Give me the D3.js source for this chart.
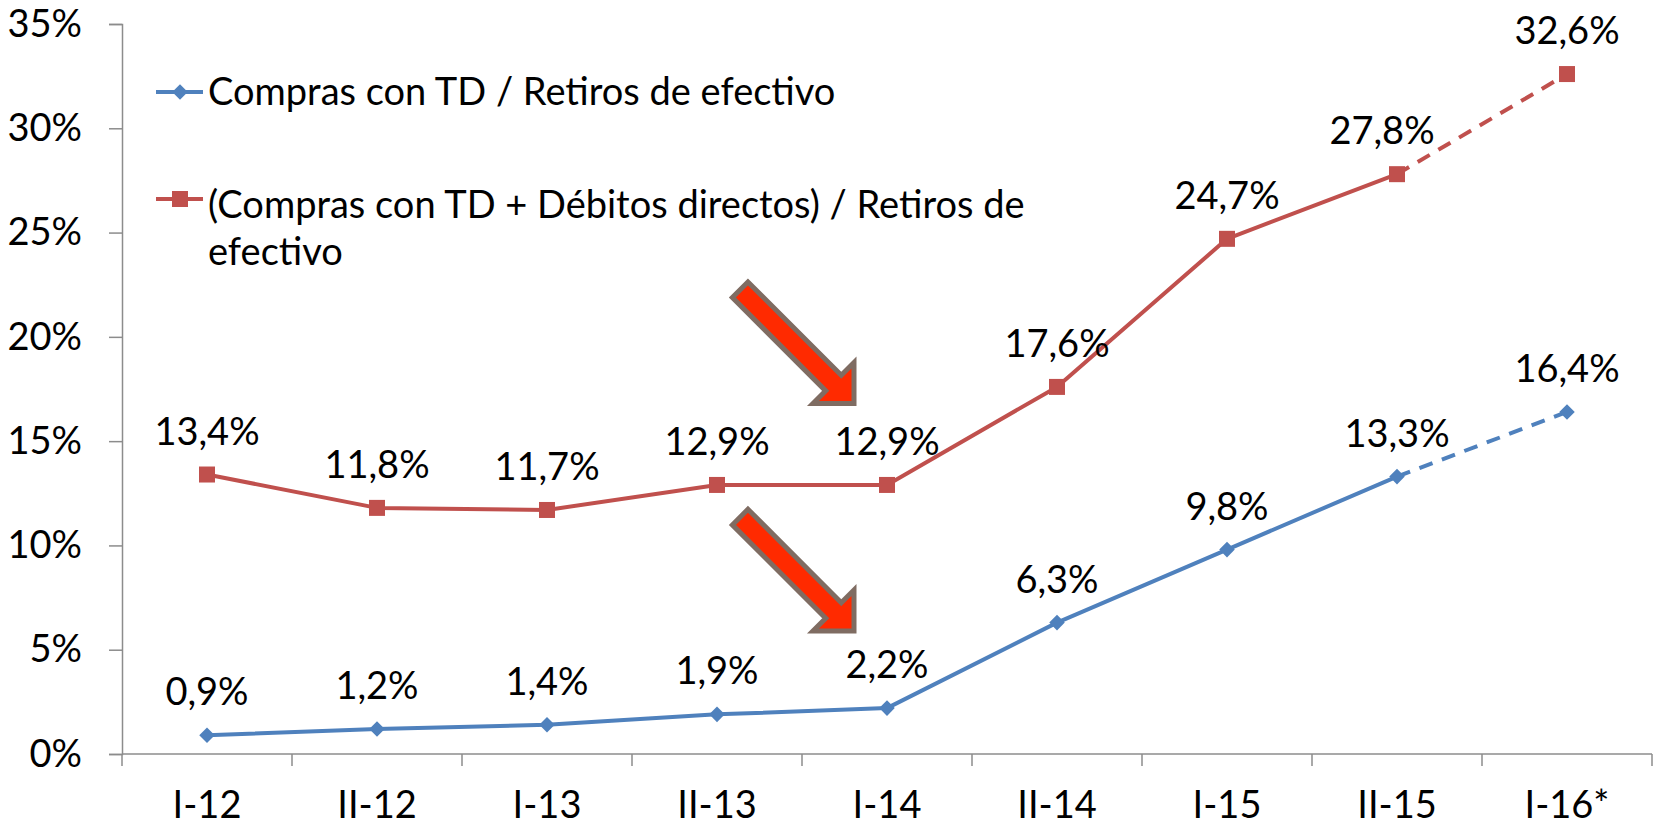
<!DOCTYPE html>
<html>
<head>
<meta charset="utf-8">
<script src="https://cdn.jsdelivr.net/npm/d3@7"></script>
<style>
  body { margin: 0; background: #fff; }
  text { font-family: Lato, "Open Sans", sans-serif; fill: #000; }
</style>
</head>
<body>
<svg></svg>
<script>
const width = 1659;
const height = 825;

const periods = ["I-12", "II-12", "I-13", "II-13", "I-14", "II-14", "I-15", "II-15", "I-16*"];
const comprasTD = [0.9, 1.2, 1.4, 1.9, 2.2, 6.3, 9.8, 13.3, 16.4];
const comprasDebitos = [13.4, 11.8, 11.7, 12.9, 12.9, 17.6, 24.7, 27.8, 32.6];
const yTicks = [0, 5, 10, 15, 20, 25, 30, 35];
const legendLabels = [
  ["Compras con TD / Retiros de efectivo"],
  ["(Compras con TD + Débitos directos) / Retiros de", "efectivo"]
];
// arrows point at the I-14 break, tip values in %
const arrowTips = [16.8, 5.9];

const blue = "#4f81bd";
const red = "#c0504d";
const axisColor = "#8c8c8c";
const fontSize = 38;

const svg = d3.select("svg")
  .attr("width", width)
  .attr("height", height);

const x = d3.scaleBand()
  .domain(periods)
  .range([122, 1652]);

const y = d3.scaleLinear()
  .domain([0, 35])
  .range([754, 24]);

const fmt = function (v) { return d3.format(".1f")(v).replace(".", ",") + "%"; };
const cx = function (p) { return x(p) + x.bandwidth() / 2; };

// y axis
const yAxis = svg.append("g")
  .attr("transform", "translate(122,0)")
  .call(d3.axisLeft(y).tickValues(yTicks).tickSize(13).tickPadding(27)
    .tickFormat(function (d) { return d + "%"; }));
yAxis.select(".domain").attr("stroke", axisColor).attr("stroke-width", 1.5);
yAxis.selectAll(".tick line").attr("stroke", axisColor).attr("stroke-width", 1.5);
yAxis.selectAll(".tick text")
  .attr("font-size", fontSize)
  .attr("font-family", "Lato, sans-serif")
  .attr("fill", "#000");

// x axis, ticks between categories
const xAxisG = svg.append("g").attr("transform", "translate(0," + y(0) + ")");
xAxisG.append("line")
  .attr("x1", x.range()[0]).attr("x2", x.range()[1])
  .attr("stroke", axisColor).attr("stroke-width", 1.5);
const edges = periods.map(function (p) { return x(p); }).concat([x.range()[1]]);
xAxisG.selectAll(".xtick")
  .data(edges)
  .enter().append("line")
    .attr("x1", function (d) { return d; })
    .attr("x2", function (d) { return d; })
    .attr("y1", 0).attr("y2", 12)
    .attr("stroke", axisColor).attr("stroke-width", 1.5);
xAxisG.selectAll(".xlabel")
  .data(periods)
  .enter().append("text")
    .attr("x", cx)
    .attr("y", 64)
    .attr("text-anchor", "middle")
    .attr("font-size", fontSize)
    .text(function (d) { return d; });

// series
const series = [
  {key: "blue", values: comprasTD, color: blue, marker: "diamond"},
  {key: "red", values: comprasDebitos, color: red, marker: "square"}
];

const line = d3.line()
  .x(function (d) { return cx(d.p); })
  .y(function (d) { return y(d.v); });

series.forEach(function (s) {
  const pts = s.values.map(function (v, i) { return {p: periods[i], v: v}; });
  const g = svg.append("g");
  g.append("path")
    .attr("d", line(pts.slice(0, pts.length - 1)))
    .attr("fill", "none").attr("stroke", s.color)
    .attr("stroke-width", 4).attr("stroke-linejoin", "round");
  g.append("path")
    .attr("d", line(pts.slice(pts.length - 2)))
    .attr("fill", "none").attr("stroke", s.color)
    .attr("stroke-width", 4).attr("stroke-dasharray", "14,10");

  if (s.marker === "square") {
    g.selectAll(".m").data(pts).enter().append("rect")
      .attr("x", function (d) { return cx(d.p) - 8; })
      .attr("y", function (d) { return y(d.v) - 8; })
      .attr("width", 16).attr("height", 16)
      .attr("fill", s.color);
  } else {
    g.selectAll(".m").data(pts).enter().append("rect")
      .attr("x", -5.5).attr("y", -5.5)
      .attr("width", 11).attr("height", 11)
      .attr("transform", function (d) {
        return "translate(" + cx(d.p) + "," + y(d.v) + ") rotate(45)";
      })
      .attr("fill", s.color);
  }

  g.selectAll(".lbl").data(pts).enter().append("text")
    .attr("x", function (d) { return cx(d.p); })
    .attr("y", function (d) { return y(d.v) - 30; })
    .attr("dx", function (d, i) { return s.key === "red" && i === 7 ? -15 : 0; })
    .attr("text-anchor", "middle")
    .attr("font-size", fontSize)
    .text(function (d) { return fmt(d.v); });
});

// legend
const legend = svg.append("g");
const legendY = [92, 199];
legendLabels.forEach(function (lines, i) {
  const s = series[i];
  const ly = legendY[i];
  legend.append("line")
    .attr("x1", 156).attr("x2", 203)
    .attr("y1", ly).attr("y2", ly)
    .attr("stroke", s.color).attr("stroke-width", 4);
  if (s.marker === "square") {
    legend.append("rect")
      .attr("x", 172).attr("y", ly - 8).attr("width", 16).attr("height", 16)
      .attr("fill", s.color);
  } else {
    legend.append("rect")
      .attr("x", -5.5).attr("y", -5.5).attr("width", 11).attr("height", 11)
      .attr("transform", "translate(180," + ly + ") rotate(45)")
      .attr("fill", s.color);
  }
  const t = legend.append("text")
    .attr("x", 208)
    .attr("y", i === 0 ? ly + 13 : ly + 19)
    .attr("font-size", fontSize);
  lines.forEach(function (ln, j) {
    t.append("tspan")
      .attr("x", 208)
      .attr("dy", j === 0 ? 0 : 47)
      .text(ln);
  });
});

// annotation arrows
const arrowShape = function () {
  const L = 161, w = 11, h = 29, H = 29;
  return [[0, -w], [L - h, -w], [L - h, -H], [L, 0], [L - h, H], [L - h, w], [0, w]];
};
svg.selectAll(".arrow")
  .data(arrowTips)
  .enter().append("polygon")
    .attr("points", arrowShape().map(function (p) { return p.join(","); }).join(" "))
    .attr("transform", function (v) {
      const tx = cx("I-14") - 33;
      const ty = y(v);
      return "translate(" + tx + "," + ty + ") rotate(45) translate(-161,0)";
    })
    .attr("fill", "#ff2a00")
    .attr("stroke", "#7f6c62")
    .attr("stroke-width", 5)
    .attr("stroke-linejoin", "miter");
</script>
</body>
</html>
